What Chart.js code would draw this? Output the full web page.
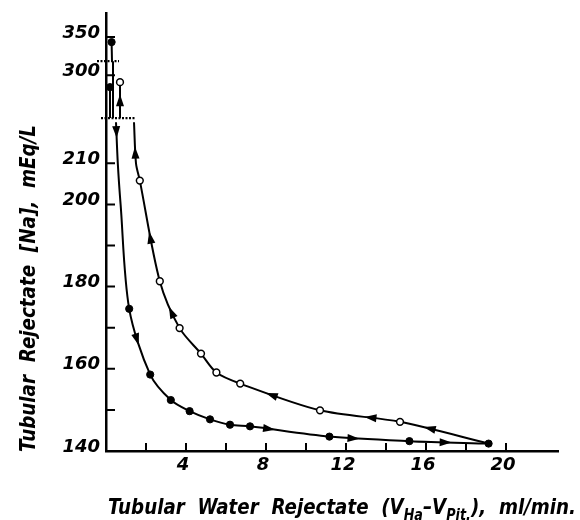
<!DOCTYPE html>
<html>
<head>
<meta charset="utf-8">
<script src="https://cdn.jsdelivr.net/npm/chart.js@4.4.1/dist/chart.umd.min.js"></script>
<style>
  body { margin: 0; background: #fff; }
</style>
</head>
<body>
<canvas id="chart" width="580" height="520"></canvas>
<script>
// descending limb (filled circles), in the order it was run. null = broken axis jump
const fallX = [0.28, 0.3, null, 0.35, 0.35, null, 0.2, 0.2, null, 0.5, 0.59, 0.73, 1.16, 2.21, 3.24, 4.18, 5.2, 6.2, 7.2, 11.17, 15.17, 19.13];
const fallY = [345, 326, null, 314, 257, null, 288, 257, null, 220, 210, 200, 174.6, 158.6, 152.4, 149.7, 147.7, 146.4, 146.0, 143.5, 142.4, 141.8];
const fallDot = [1, 0, 0, 0, 0, 0, 1, 0, 0, 0, 0, 0, 1, 1, 1, 1, 1, 1, 1, 1, 1, 1];

// return limb (open circles), from the far end back up
const riseX = [19.13, 14.7, 10.7, 6.71, 5.52, 4.75, 3.68, 2.69, 1.69, 1.5, 1.4, null, 0.7, 0.7];
const riseY = [141.8, 147.1, 149.9, 156.4, 159.1, 163.7, 169.9, 181.3, 205.8, 210, 220, null, 257, 293];
const riseDot = [0, 1, 1, 1, 1, 1, 1, 1, 1, 0, 0, 0, 0, 1];

const xTicks = [2, 4, 6, 8, 10, 12, 14, 16, 18, 20];
const xLabelled = [4, 8, 12, 16, 20];
const yTicks = [140, 150, 160, 170, 180, 190, 200, 210, 300, 350];
const yLabelled = [140, 160, 180, 200, 210, 300, 350];

// arrowheads: [segment index, position along it]
const fallArrows = [[9, 0.25], [12, 0.46], [18, 0.25], [19, 0.31], [20, 0.46]];
const riseArrows = [[0, 0.66], [1, 0.375], [2, 0.6], [6, 0.36], [7, 0.44], [9, 0.27], [12, 0.5]];

// broken y axis: [from, to, start share, end share] of the axis height
const yParts = [[140, 221, 0, 0.76], [257, 314, 0.76, 0.89], [326, 374, 0.89, 1]];

function toShare(v) {
  let d = 0;
  for (const [lo, hi, a, b] of yParts) {
    if (v <= lo) return a;
    if (v <= hi) return a + (b - a) * (v - lo) / (hi - lo);
    d = b;
  }
  return d;
}
function fromShare(d) {
  for (const [lo, hi, a, b] of yParts) {
    if (d <= b) return lo + (hi - lo) * Math.max(0, d - a) / (b - a);
  }
  return yParts[yParts.length - 1][1];
}

class BrokenScale extends Chart.LinearScale {
  getPixelForValue(v) {
    if (v === null || v === undefined || isNaN(v)) return NaN;
    return this.getPixelForDecimal(toShare(v));
  }
  getValueForPixel(p) {
    return fromShare(this.getDecimalForPixel(p));
  }
}
BrokenScale.id = 'broken';
Chart.register(BrokenScale);

const toPoints = (xs, ys) => xs.map((x, i) => ({ x: x, y: ys[i] }));

const tickFont = { family: '"DejaVu Sans"', size: 18, style: 'italic', weight: 'bold' };

function drawText(ctx, parts, width, size) {
  const font = p => 'italic bold ' + (p.sub ? size * 0.7 : size) + 'px "DejaVu Sans"';
  let natural = 0;
  for (const p of parts) { ctx.font = font(p); natural += ctx.measureText(p.text).width; }
  ctx.scale(width / natural, 1);
  let cx = 0;
  for (const p of parts) {
    ctx.font = font(p);
    ctx.fillText(p.text, cx, p.sub ? size * 0.28 : 0);
    cx += ctx.measureText(p.text).width;
  }
}

function arrowHead(ctx, a, b, t) {
  // point and direction on the bezier drawn between two line points
  const p0 = [a.x, a.y], c1 = [a.cp2x, a.cp2y], c2 = [b.cp1x, b.cp1y], p1 = [b.x, b.y];
  const u = 1 - t;
  const pos = [0, 1].map(k => u*u*u*p0[k] + 3*u*u*t*c1[k] + 3*u*t*t*c2[k] + t*t*t*p1[k]);
  const der = [0, 1].map(k => 3*u*u*(c1[k]-p0[k]) + 6*u*t*(c2[k]-c1[k]) + 3*t*t*(p1[k]-c2[k]));
  const len = Math.hypot(der[0], der[1]) || 1;
  const dx = der[0] / len, dy = der[1] / len;
  ctx.beginPath();
  ctx.moveTo(pos[0] + dx * 6, pos[1] + dy * 6);
  ctx.lineTo(pos[0] - dx * 6 - dy * 4, pos[1] - dy * 6 + dx * 4);
  ctx.lineTo(pos[0] - dx * 6 + dy * 4, pos[1] - dy * 6 - dx * 4);
  ctx.closePath();
  ctx.fill();
}

const decorations = {
  id: 'decorations',
  afterDraw(chart) {
    const { ctx, chartArea, scales: { x, y } } = chart;
    ctx.save();
    ctx.strokeStyle = '#000';
    ctx.fillStyle = '#000';
    ctx.lineWidth = 2;

    // inward tick marks
    ctx.beginPath();
    xTicks.forEach(v => {
      const px = x.getPixelForValue(v);
      ctx.moveTo(px, chartArea.bottom);
      ctx.lineTo(px, chartArea.bottom - 8);
    });
    yTicks.forEach(v => {
      if (v === 140) return;
      const py = y.getPixelForValue(v);
      ctx.moveTo(chartArea.left, py);
      ctx.lineTo(chartArea.left + 9, py);
    });
    ctx.stroke();

    // axis break marks
    ctx.setLineDash([2, 1.5]);
    ctx.lineWidth = 2.2;
    ctx.beginPath();
    let py = y.getPixelForValue(yParts[0][1]);
    ctx.moveTo(chartArea.left - 5, py);
    ctx.lineTo(chartArea.left + 30, py);
    py = y.getPixelForValue(yParts[1][1]);
    ctx.moveTo(chartArea.left - 9, py);
    ctx.lineTo(chartArea.left + 13, py);
    ctx.stroke();
    ctx.setLineDash([]);

    // direction arrows
    [[0, fallArrows], [1, riseArrows]].forEach(([i, list]) => {
      const pts = chart.getDatasetMeta(i).data;
      list.forEach(([s, t]) => arrowHead(ctx, pts[s], pts[s + 1], t));
    });

    // axis titles
    ctx.textAlign = 'left';
    ctx.textBaseline = 'alphabetic';
    ctx.save();
    ctx.translate(108, 514);
    drawText(ctx, [
      { text: 'Tubular  Water  Rejectate  (V' },
      { text: 'Ha', sub: true },
      { text: '\u2013V' },
      { text: 'Pit.', sub: true },
      { text: '),  ml/min.' }
    ], 468, 22);
    ctx.restore();

    ctx.save();
    ctx.translate(35, 452);
    ctx.rotate(-Math.PI / 2);
    drawText(ctx, [{ text: 'Tubular  Rejectate  [Na],  mEq/L' }], 327, 21);
    ctx.restore();

    ctx.restore();
  }
};

new Chart(document.getElementById('chart'), {
  type: 'scatter',
  data: {
    datasets: [{
      data: toPoints(fallX, fallY),
      showLine: true,
      borderColor: '#000',
      borderWidth: 2,
      tension: 0.3,
      pointRadius: c => fallDot[c.dataIndex] ? 3.6 : 0,
      pointBackgroundColor: '#000',
      pointBorderColor: '#000',
      pointBorderWidth: 1
    }, {
      data: toPoints(riseX, riseY),
      showLine: true,
      borderColor: '#000',
      borderWidth: 2,
      tension: 0.3,
      pointRadius: c => riseDot[c.dataIndex] ? 3.4 : 0,
      pointBackgroundColor: '#fff',
      pointBorderColor: '#000',
      pointBorderWidth: 1.5
    }]
  },
  options: {
    responsive: false,
    animation: false,
    events: [],
    layout: { padding: { top: 13, right: 22, left: 0, bottom: 0 } },
    plugins: { legend: { display: false }, tooltip: { enabled: false } },
    scales: {
      x: {
        type: 'linear',
        min: 0,
        max: 22.6,
        afterBuildTicks: s => { s.ticks = xTicks.map(v => ({ value: v })); },
        afterFit: s => { s.height = 69; s.paddingLeft = 0; s.paddingRight = 0; },
        grid: { display: false, drawTicks: false },
        border: { display: true, color: '#000', width: 2.5 },
        ticks: {
          autoSkip: false,
          maxRotation: 0,
          padding: 4,
          labelOffset: -3,
          color: '#000',
          font: tickFont,
          callback: v => xLabelled.includes(v) ? String(v) : ''
        }
      },
      y: {
        type: 'broken',
        min: 140,
        max: 374,
        afterBuildTicks: s => { s.ticks = yTicks.map(v => ({ value: v })); },
        afterFit: s => { s.width = 106; s.paddingTop = 0; s.paddingBottom = 0; },
        grid: { display: false, drawTicks: false },
        border: { display: true, color: '#000', width: 2.5 },
        ticks: {
          autoSkip: false,
          padding: 6,
          labelOffset: -4,
          color: '#000',
          font: tickFont,
          callback: v => yLabelled.includes(v) ? String(v) : ''
        }
      }
    }
  },
  plugins: [decorations]
});
</script>
</body>
</html>
